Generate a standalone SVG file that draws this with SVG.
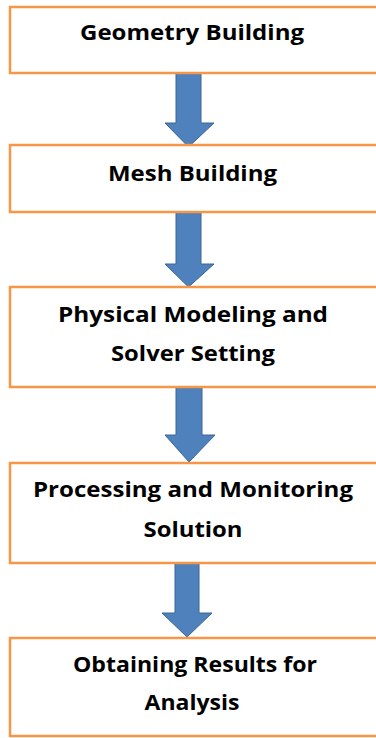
<svg xmlns="http://www.w3.org/2000/svg" width="376" height="738" viewBox="0 0 376 738">
  <style>
    .box { fill: #ffffff; stroke: #F79646; stroke-width: 2.5; }
    .lbl { font-family: "Open Sans", "Liberation Sans", sans-serif; font-weight: bold; font-size: 21px; fill: #000000; text-anchor: middle; }
    .arrow { fill: #4F81BD; stroke: #3A6496; stroke-width: 1; stroke-linejoin: miter; }
  </style>
  <rect width="376" height="738" fill="#ffffff"/>
  <g id="connectors">
    <polygon class="arrow" points="176,71 201,71 201,123 214,123 188.5,147 165,123 176,123"/>
    <polygon class="arrow" points="176,212 201,212 201,264 214,264 188.5,287 165,264 176,264"/>
    <polygon class="arrow" points="176,387 202,387 202,435 215,435 189,462 165,435 176,435"/>
    <polygon class="arrow" points="175,563 199,563 199,613 212,613 187,637 162,613 175,613"/>
  </g>
  <g id="node1">
    <rect class="box" x="10" y="7" width="380" height="66"/>
    <text class="lbl" x="192" y="40" textLength="224" lengthAdjust="spacingAndGlyphs">Geometry Building</text>
  </g>
  <g id="node2">
    <rect class="box" x="10" y="145" width="380" height="67"/>
    <text class="lbl" x="192.5" y="181" textLength="169" lengthAdjust="spacingAndGlyphs">Mesh Building</text>
  </g>
  <g id="node3">
    <rect class="box" x="10" y="287" width="380" height="100"/>
    <text class="lbl" x="193" y="322" textLength="270" lengthAdjust="spacingAndGlyphs">Physical Modeling and</text>
    <text class="lbl" x="193" y="361" textLength="164" lengthAdjust="spacingAndGlyphs">Solver Setting</text>
  </g>
  <g id="node4">
    <rect class="box" x="10" y="463" width="380" height="100"/>
    <text class="lbl" x="193" y="497" textLength="320" lengthAdjust="spacingAndGlyphs">Processing and Monitoring</text>
    <text class="lbl" x="193" y="537" textLength="99" lengthAdjust="spacingAndGlyphs">Solution</text>
  </g>
  <g id="node5">
    <rect class="box" x="10" y="638" width="380" height="98"/>
    <text class="lbl" x="195" y="672" textLength="244" lengthAdjust="spacingAndGlyphs">Obtaining Results for</text>
    <text class="lbl" x="192" y="710" textLength="95" lengthAdjust="spacingAndGlyphs">Analysis</text>
  </g>
</svg>
